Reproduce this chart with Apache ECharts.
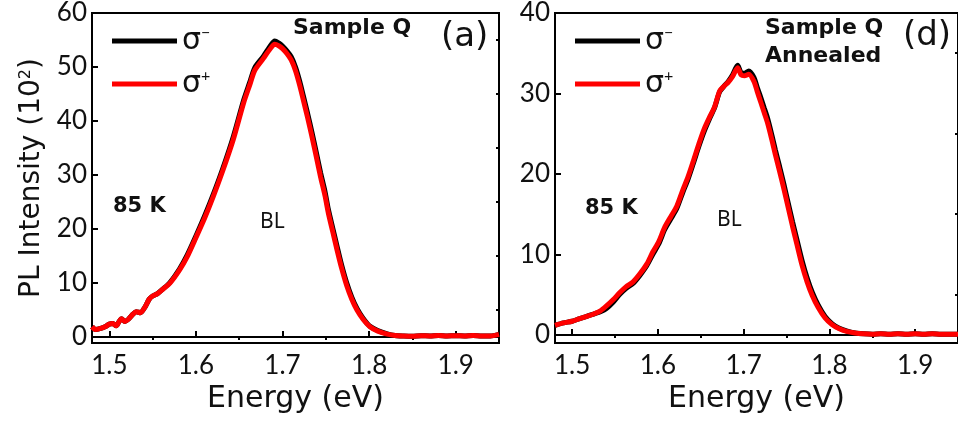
<!DOCTYPE html>
<html>
<head>
<meta charset="utf-8">
<script src="https://cdn.jsdelivr.net/npm/echarts@6/dist/echarts.min.js"></script>
<style>
  html, body { margin: 0; padding: 0; background: #fff; }
  #chart { width: 958px; height: 423px; }
</style>
</head>
<body>
<div id="chart"></div>
<script>
// Panel (a): Sample Q, 85 K
const energyA = [1.480,1.484,1.490,1.495,1.500,1.504,1.508,1.511,1.514,1.518,1.522,1.527,1.531,1.536,1.541,1.546,1.550,1.556,1.562,1.570,1.581,1.590,1.600,1.610,1.620,1.631,1.643,1.655,1.662,1.668,1.678,1.685,1.691,1.696,1.700,1.705,1.710,1.715,1.720,1.724,1.729,1.734,1.739,1.744,1.749,1.753,1.758,1.763,1.768,1.774,1.780,1.786,1.793,1.801,1.810,1.821,1.830,1.840,1.850,1.860,1.870,1.880,1.890,1.900,1.910,1.920,1.930,1.940,1.950];
const sigmaMinusA = [1.9,1.4,1.6,1.9,2.4,2.5,2.1,2.8,3.4,2.9,3.3,4.2,4.7,4.5,5.5,7.0,7.6,8.1,8.9,10.1,12.6,15.2,18.7,22.4,26.4,31.2,37.0,43.8,47.1,49.9,52.0,53.7,54.8,54.4,53.9,53.0,51.9,50.0,47.3,44.7,41.4,37.9,34.2,30.4,27.0,23.6,20.2,16.8,13.5,10.1,7.4,5.3,3.5,2.0,1.2,0.6,0.3,0.2,0.15,0.25,0.2,0.3,0.2,0.25,0.2,0.3,0.2,0.2,0.5];
const sigmaPlusA = [1.9,1.4,1.6,1.9,2.4,2.5,2.1,2.8,3.4,2.9,3.3,4.2,4.7,4.5,5.5,7.0,7.6,8.1,8.9,10.0,12.4,14.9,18.4,22.0,26.0,30.8,36.5,43.3,46.6,49.4,51.6,53.2,54.2,53.9,53.4,52.5,51.3,49.3,46.5,43.9,40.6,37.1,33.4,29.6,26.2,22.9,19.5,16.1,12.9,9.6,7.0,5.0,3.3,1.9,1.1,0.55,0.3,0.2,0.15,0.25,0.2,0.3,0.2,0.25,0.2,0.3,0.2,0.2,0.5];

// Panel (d): Sample Q annealed, 85 K
const energyD = [1.480,1.490,1.500,1.508,1.517,1.525,1.533,1.540,1.548,1.555,1.563,1.571,1.579,1.587,1.594,1.601,1.608,1.615,1.622,1.629,1.635,1.641,1.648,1.654,1.660,1.666,1.672,1.677,1.682,1.687,1.693,1.697,1.701,1.706,1.712,1.716,1.720,1.724,1.728,1.733,1.737,1.742,1.747,1.752,1.757,1.762,1.768,1.774,1.780,1.787,1.795,1.803,1.811,1.820,1.830,1.840,1.850,1.860,1.870,1.880,1.890,1.900,1.910,1.920,1.930,1.940,1.950];
const sigmaMinusD = [1.2,1.5,1.7,2.0,2.3,2.6,2.9,3.3,4.1,5.0,5.8,6.4,7.4,8.6,10.0,11.3,13.1,14.4,15.7,17.7,19.3,21.2,23.5,25.3,26.8,28.2,30.2,30.9,31.5,32.3,33.5,32.6,32.5,32.8,32.0,30.7,29.5,28.2,26.9,24.8,23.0,20.9,18.7,16.4,14.1,11.9,9.3,7.1,5.3,3.7,2.3,1.4,0.85,0.5,0.25,0.15,0.1,0.15,0.1,0.15,0.1,0.15,0.1,0.15,0.1,0.1,0.1];
const sigmaPlusD = [1.2,1.5,1.7,2.0,2.3,2.6,3.0,3.6,4.4,5.2,6.0,6.6,7.6,8.8,10.3,11.6,13.4,14.7,16.0,18.0,19.6,21.5,23.8,25.6,27.0,28.3,30.3,30.9,31.4,32.1,33.2,32.3,32.2,32.4,31.5,30.2,28.9,27.6,26.3,24.2,22.4,20.3,18.1,15.8,13.5,11.3,8.7,6.6,4.9,3.4,2.1,1.3,0.8,0.45,0.25,0.15,0.1,0.15,0.1,0.15,0.1,0.15,0.1,0.15,0.1,0.1,0.1];

// Axis ticks
const energyTicks = [1.5, 1.6, 1.7, 1.8, 1.9];
const energyMinorTicks = [1.55, 1.65, 1.75, 1.85, 1.95];
const intensityTicksA = [0, 10, 20, 30, 40, 50, 60];
const intensityMinorTicksA = [5, 15, 25, 35, 45, 55];
const intensityTicksD = [0, 10, 20, 30, 40];
const intensityMinorTicksD = [5, 15, 25, 35];

const seriesNames = ['σ−', 'σ+'];
const seriesColors = ['#000000', '#ff0000'];

const FONT = 'Lato';
const WIDE = 'DejaVu Sans';
const INK = '#111';
const AXIS_COLOR = '#000';

function pairs(xs, ys) { return xs.map((x, i) => [x, ys[i]]); }

function xAxesFor(gridIndex) {
  const base = {
    type: 'value', gridIndex: gridIndex, min: 1.48, max: 1.95,
    splitLine: { show: false }
  };
  return [
    Object.assign({}, base, {
      name: 'Energy (eV)', nameLocation: 'middle', nameGap: 35,
      nameTextStyle: { fontFamily: WIDE, fontSize: 30, color: INK },
      axisLine: { show: true, lineStyle: { color: AXIS_COLOR, width: 2 } },
      axisTick: { show: true, inside: true, length: 6, lineStyle: { width: 2, color: AXIS_COLOR }, customValues: energyTicks },
      axisLabel: { show: true, fontFamily: FONT, fontSize: 26, color: INK, margin: 10,
                   customValues: energyTicks, formatter: v => v.toFixed(1) }
    }),
    Object.assign({}, base, {
      axisLine: { show: false },
      axisTick: { show: true, inside: true, length: 3, lineStyle: { width: 2, color: AXIS_COLOR }, customValues: energyMinorTicks },
      axisLabel: { show: false }
    })
  ];
}

function yAxesFor(gridIndex, min, max, ticks, minor, withName) {
  const base = { type: 'value', gridIndex: gridIndex, min: min, max: max, splitLine: { show: false } };
  const main = Object.assign({}, base, {
    axisLine: { show: true, lineStyle: { color: AXIS_COLOR, width: 2 } },
    axisTick: { show: true, inside: true, length: 6, lineStyle: { width: 2, color: AXIS_COLOR }, customValues: ticks },
    axisLabel: { show: true, fontFamily: FONT, fontSize: 26, color: INK, margin: 5, customValues: ticks }
  });
  if (withName) {
    Object.assign(main, {
      name: 'PL Intensity (10{sup|2})', nameLocation: 'middle', nameGap: 46,
      nameTextStyle: {
        fontFamily: WIDE, fontSize: 28, color: INK,
        rich: { sup: { fontFamily: WIDE, fontSize: 16, color: INK, verticalAlign: 'top', lineHeight: 14 } }
      }
    });
  }
  return [main, Object.assign({}, base, {
    axisLine: { show: false },
    axisTick: { show: true, inside: true, length: 3, lineStyle: { width: 2, color: AXIS_COLOR }, customValues: minor },
    axisLabel: { show: false }
  })];
}

function legendFor(left) {
  return {
    left: left, top: 20, orient: 'vertical', selectedMode: false,
    data: seriesNames, icon: 'rect', itemWidth: 65, itemHeight: 5, itemGap: 12,
    formatter: n => '{s|σ}{p|' + (n === 'σ−' ? '−' : '+') + '}',
    textStyle: {
      rich: {
        s: { fontFamily: WIDE, fontSize: 30, color: INK, lineHeight: 32 },
        p: { fontFamily: FONT, fontSize: 16, color: INK, verticalAlign: 'top', lineHeight: 14 }
      }
    }
  };
}

function lineSeries(name, color, xi, yi, data) {
  return {
    name: name, type: 'line', xAxisIndex: xi, yAxisIndex: yi,
    data: data, showSymbol: false, smooth: 0.25,
    lineStyle: { color: color, width: 5 }, itemStyle: { color: color },
    emphasis: { disabled: true }, animation: false
  };
}

function label(x, y, text, size, bold, family) {
  return {
    type: 'text', left: x, top: y, silent: true,
    style: { text: text, fontFamily: family || WIDE, fontSize: size, fontWeight: bold ? 'bold' : 'normal', fill: INK }
  };
}

const chart = echarts.init(document.getElementById('chart'), null, { renderer: 'canvas' });
chart.setOption({
  animation: false,
  backgroundColor: '#fff',
  grid: [
    { left: 92, top: 13, width: 407, height: 330, show: true, borderColor: '#000', borderWidth: 2, containLabel: false },
    { left: 555, top: 13, width: 406, height: 330, show: true, borderColor: '#000', borderWidth: 2, containLabel: false }
  ],
  xAxis: xAxesFor(0).concat(xAxesFor(1)),
  yAxis: yAxesFor(0, -1.1, 60, intensityTicksA, intensityMinorTicksA, true)
    .concat(yAxesFor(1, -1.0, 40, intensityTicksD, intensityMinorTicksD, false)),
  legend: [legendFor(107), legendFor(570)],
  series: [
    lineSeries(seriesNames[0], seriesColors[0], 0, 0, pairs(energyA, sigmaMinusA)),
    lineSeries(seriesNames[1], seriesColors[1], 0, 0, pairs(energyA, sigmaPlusA)),
    lineSeries(seriesNames[0], seriesColors[0], 2, 2, pairs(energyD, sigmaMinusD)),
    lineSeries(seriesNames[1], seriesColors[1], 2, 2, pairs(energyD, sigmaPlusD))
  ],
  graphic: [
    label(293, 17, 'Sample Q', 22, true),
    label(441, 20, '(a)', 34, false),
    label(113, 196, '85 K', 21, true),
    label(260, 212, 'BL', 21, false, 'Noto Sans'),
    label(765, 17, 'Sample Q', 22, true),
    label(765, 45, 'Annealed', 22, true),
    label(903, 19, '(d)', 34, false),
    label(585, 198, '85 K', 21, true),
    label(717, 210, 'BL', 21, false, 'Noto Sans')
  ]
});
</script>
</body>
</html>
